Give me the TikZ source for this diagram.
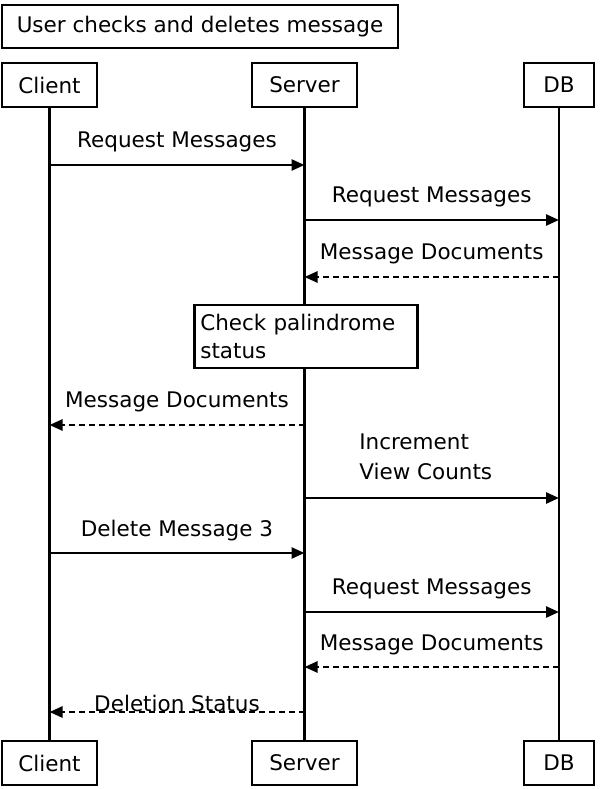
\documentclass[tikz,border=0pt]{standalone}
\usepackage{fontspec}
\setmainfont{DejaVu Sans}
\usetikzlibrary{arrows.meta}

\begin{document}
\begin{tikzpicture}[x=1pt, y=-1pt, line width=2.6pt,
                    actor/.style={draw, fill=white, minimum height=44pt, inner sep=0pt, font=\fontsize{21.5}{26}\selectfont},
                    msg/.style={inner sep=0pt, font=\fontsize{21.5}{26}\selectfont},
                    call/.style={-{Triangle[length=13pt, width=11pt]}},
                    reply/.style={call, dash pattern=on 6pt off 4pt}]
                    \useasboundingbox (0,0) rectangle (600,789);

                    % Title
                    \node[actor, minimum width=396pt, minimum height=43pt] (Title) at (200,26.5) {User checks and deletes message};

                    % Participants, top and bottom
                    \node[actor, minimum width=95pt]  (ClientTop) at (49.5,85)  {Client};
                    \node[actor, minimum width=105pt] (ServerTop) at (304.5,85) {Server};
                    \node[actor, minimum width=70pt]  (DBTop)     at (559,85)   {DB};
                    \node[actor, minimum width=95pt]  (ClientBot) at (49.5,763)  {Client};
                    \node[actor, minimum width=105pt] (ServerBot) at (304.5,763) {Server};
                    \node[actor, minimum width=70pt]  (DBBot)     at (559,763)   {DB};

                    % Lifelines
                    \draw (ClientTop) -- (ClientBot);
                    \draw (ServerTop) -- (ServerBot);
                    \draw (DBTop) -- (DBBot);

                    % Message end points on the lifelines
                    \coordinate (c1) at (49.5,165);  \coordinate (s1) at (304.5,165);
                    \coordinate (s2) at (304.5,220); \coordinate (d2) at (559,220);
                    \coordinate (d3) at (559,277);   \coordinate (s3) at (304.5,277);
                    \coordinate (s5) at (304.5,425); \coordinate (c5) at (49.5,425);
                    \coordinate (s6) at (304.5,498); \coordinate (d6) at (559,498);
                    \coordinate (c7) at (49.5,553);  \coordinate (s7) at (304.5,553);
                    \coordinate (s8) at (304.5,612); \coordinate (d8) at (559,612);
                    \coordinate (d9) at (559,667);   \coordinate (s9) at (304.5,667);
                    \coordinate (s10) at (304.5,712); \coordinate (c10) at (49.5,712);

                    % Note on the server
                    \node[draw, fill=white, align=left, anchor=west, text width=211pt, minimum height=63pt, inner xsep=6pt,
                          font=\fontsize{21.5}{28}\selectfont] (Palindrome) at (193,336.5) {Check palindrome\\status};

                    % Arrows
                    \draw[call]  (c1) -- (s1) node[msg, midway, above=12pt] (ReqOne) {Request Messages};
                    \draw[call]  (s2) -- (d2) node[msg, midway, above=12pt] (ReqTwo) {Request Messages};
                    \draw[reply] (d3) -- (s3) node[msg, midway, above=12pt] (DocsOne) {Message Documents};
                    \draw[reply] (s5) -- (c5) node[msg, midway, above=12pt] (DocsTwo) {Message Documents};
                    \draw[call]  (s6) -- (d6);
                    \node[msg, align=left, anchor=north west, font=\fontsize{21.5}{30}\selectfont] (Increment) at (358,433) {Increment\\View Counts};
                    \draw[call]  (c7) -- (s7) node[msg, midway, above=11pt] (Delete) {Delete Message 3};
                    \draw[call]  (s8) -- (d8) node[msg, midway, above=12pt] (ReqThree) {Request Messages};
                    \draw[reply] (d9) -- (s9) node[msg, midway, above=11pt] (DocsThree) {Message Documents};
                    \draw[reply] (s10) -- (c10) node[msg, midway, yshift=9pt] (Status) {Deletion Status};
                \end{tikzpicture}
\end{document}
